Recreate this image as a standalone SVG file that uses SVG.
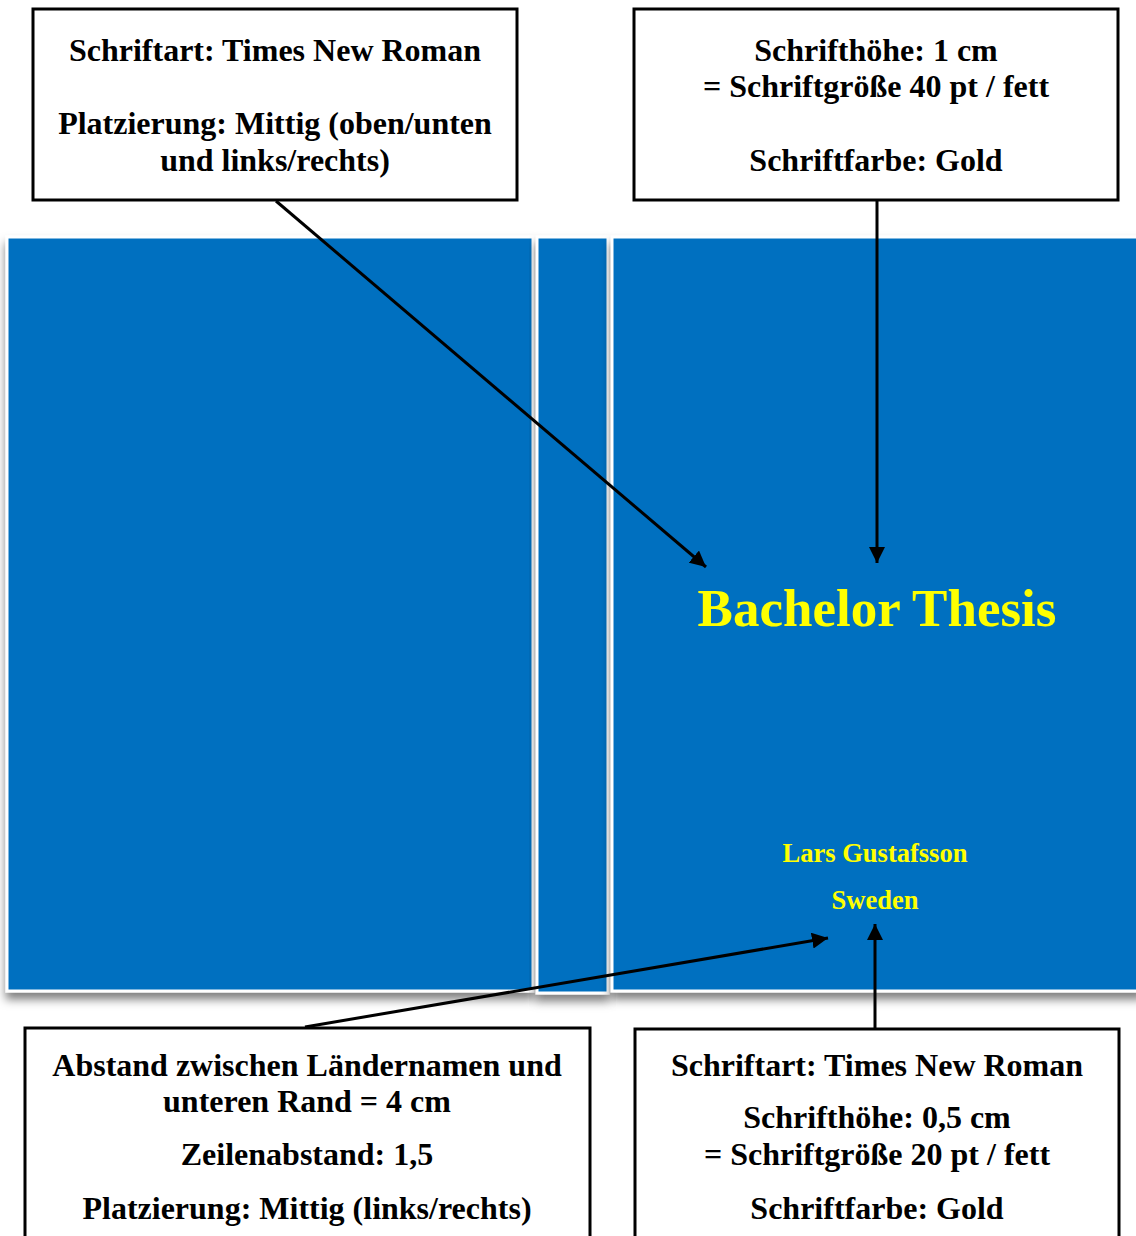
<svg xmlns="http://www.w3.org/2000/svg" width="1136" height="1236" viewBox="0 0 1136 1236">
<style>
.panel{fill:#0070C0;stroke:#ffffff;stroke-width:3}
.box{fill:#ffffff;stroke:#000000;stroke-width:3}
.lbl{font-family:"Liberation Serif","Times New Roman",serif;font-weight:bold;font-size:32px;fill:#000;text-anchor:middle}
.gold{font-family:"Liberation Serif","Times New Roman",serif;font-weight:bold;fill:#FFFF00;text-anchor:middle}
.conn{stroke:#000;stroke-width:3;fill:none}
</style>
<defs>
<filter id="sh" x="-10%" y="-10%" width="120%" height="120%">
<feDropShadow dx="0" dy="7" stdDeviation="5" flood-color="#000" flood-opacity="0.5"/>
</filter>
<marker id="arr" viewBox="0 0 10 10" refX="10" refY="5" markerWidth="16" markerHeight="16" markerUnits="userSpaceOnUse" orient="auto">
<path d="M0,0 L10,5 L0,10 z" fill="#000"/>
</marker>
</defs>
<rect width="1136" height="1236" fill="#ffffff"/>
<g id="cover">
<rect id="back" class="panel" x="7" y="237" width="526" height="754" filter="url(#sh)"/>
<rect id="spine" class="panel" x="537" y="237" width="71" height="756" filter="url(#sh)"/>
<rect id="front" class="panel" x="612" y="237" width="530" height="754" filter="url(#sh)"/>
<text class="gold" x="877" y="626" font-size="53">Bachelor Thesis</text>
<text class="gold" x="875" y="862" font-size="26.5">Lars Gustafsson</text>
<text class="gold" x="875" y="909" font-size="26.5">Sweden</text>
</g>
<g id="connectors">
<line class="conn" x1="276" y1="201" x2="706" y2="567" marker-end="url(#arr)"/>
<line class="conn" x1="877" y1="201" x2="877" y2="563" marker-end="url(#arr)"/>
<line class="conn" x1="305" y1="1027" x2="828" y2="938" marker-end="url(#arr)"/>
<line class="conn" x1="875" y1="1029" x2="875" y2="924" marker-end="url(#arr)"/>
</g>
<g id="box-top-left">
<rect class="box" x="33" y="9" width="484" height="191"/>
<text class="lbl" x="275" y="61">Schriftart: Times New Roman</text>
<text class="lbl" x="275" y="134">Platzierung: Mittig (oben/unten</text>
<text class="lbl" x="275" y="171">und links/rechts)</text>
</g>
<g id="box-top-right">
<rect class="box" x="634" y="9" width="484" height="191"/>
<text class="lbl" x="876" y="61">Schrifthöhe: 1 cm</text>
<text class="lbl" x="876" y="97">= Schriftgröße 40 pt / fett</text>
<text class="lbl" x="876" y="171">Schriftfarbe: Gold</text>
</g>
<g id="box-bottom-left">
<rect class="box" x="25" y="1028" width="565" height="230"/>
<text class="lbl" x="307" y="1076">Abstand zwischen Ländernamen und</text>
<text class="lbl" x="307" y="1112">unteren Rand = 4 cm</text>
<text class="lbl" x="307" y="1165">Zeilenabstand: 1,5</text>
<text class="lbl" x="307" y="1219">Platzierung: Mittig (links/rechts)</text>
</g>
<g id="box-bottom-right">
<rect class="box" x="635" y="1029" width="484" height="230"/>
<text class="lbl" x="877" y="1076">Schriftart: Times New Roman</text>
<text class="lbl" x="877" y="1128">Schrifthöhe: 0,5 cm</text>
<text class="lbl" x="877" y="1165">= Schriftgröße 20 pt / fett</text>
<text class="lbl" x="877" y="1219">Schriftfarbe: Gold</text>
</g>
</svg>
